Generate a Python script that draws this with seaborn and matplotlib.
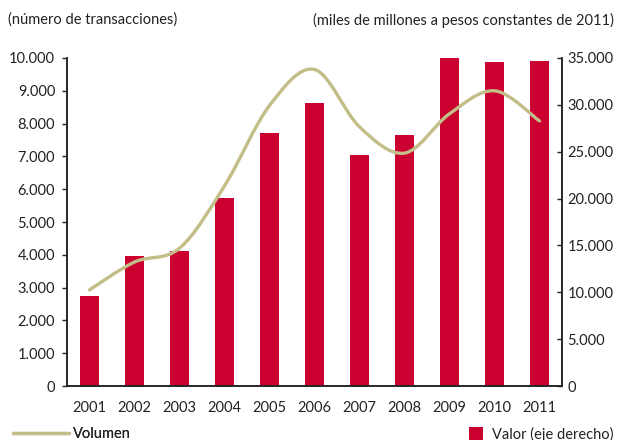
import matplotlib
matplotlib.use("Agg")
import matplotlib.pyplot as plt
import seaborn as sns
import numpy as np
import pandas as pd
from matplotlib.path import Path
from matplotlib.patches import PathPatch, Patch
from matplotlib.lines import Line2D
from matplotlib.ticker import FuncFormatter, FixedLocator

years = ["2001", "2002", "2003", "2004", "2005", "2006", "2007", "2008", "2009", "2010", "2011"]
valor = [9600, 13900, 14400, 20100, 27000, 30200, 24650, 26800, 34950, 34600, 34700]
volumen = [2930, 3780, 4200, 6100, 8550, 9650, 7900, 7100, 8300, 9000, 8080]

left_title = "(número de transacciones)"
right_title = "(miles de millones a pesos constantes de 2011)"
line_label = "Volumen"
bar_label = "Valor (eje derecho)"

BAR_COLOR = "#cc0030"
LINE_COLOR = "#c3bd88"
FONT = "Lato"

sns.set_theme(style="white")
plt.rcParams["font.family"] = [FONT, "DejaVu Sans"]
plt.rcParams["font.size"] = 10.5

df = pd.DataFrame({"year": years, "valor": valor, "volumen": volumen})

fig = plt.figure(figsize=(6.2, 4.4), dpi=100)
ax = fig.add_axes([67/620, 1-386/440, (562-67)/620, (386-58)/440])
ax2 = ax.twinx()

sns.barplot(data=df, x="year", y="valor", ax=ax2, color=BAR_COLOR, width=0.42,
            saturation=1, edgecolor="none")
ax2.set_ylim(0, 35000)
ax.set_ylim(0, 10000)
ax.set_xlim(-0.5, 10.5)

# smooth line (Excel-style bezier through the data points)
xs = np.arange(len(volumen), dtype=float)
ys = np.array(volumen, dtype=float)
pts = np.column_stack([xs, ys])
verts = [tuple(pts[0])]
codes = [Path.MOVETO]
n = len(pts)
for i in range(n - 1):
    p0 = pts[i - 1] if i > 0 else pts[i]
    p1 = pts[i]
    p2 = pts[i + 1]
    p3 = pts[i + 2] if i + 2 < n else pts[i + 1]
    c1 = p1 + (p2 - p0) / 6.0
    c2 = p2 - (p3 - p1) / 6.0
    verts += [tuple(c1), tuple(c2), tuple(p2)]
    codes += [Path.CURVE4] * 3
path = Path(verts, codes)
ax.add_patch(PathPatch(path, facecolor="none", edgecolor=LINE_COLOR, lw=2.4,
                       capstyle="round", zorder=3))

ax.set_zorder(ax2.get_zorder() + 1)
ax.patch.set_visible(False)

fmt = FuncFormatter(lambda v, p: f"{int(v):,}".replace(",", "."))
ax.yaxis.set_major_locator(FixedLocator(np.arange(0, 10001, 1000)))
ax2.yaxis.set_major_locator(FixedLocator(np.arange(0, 35001, 5000)))
ax.yaxis.set_major_formatter(fmt)
ax2.yaxis.set_major_formatter(fmt)

ax2.set_xticks(range(len(years)))
ax2.set_xticklabels(years)
ax.set_xticks(range(len(years)))
ax.set_xticklabels(years)
ax.set_xticks(np.arange(0.5, len(years) - 1, 1.0), minor=True)
ax.tick_params(axis="x", which="major", length=0, pad=11, labelsize=10.5, colors="#222222")
ax.tick_params(axis="x", which="minor", length=4, width=1, direction="in", color="#222222")
ax2.tick_params(axis="x", which="both", length=0, labelbottom=False)
ax.tick_params(axis="y", length=3.5, width=1, direction="out", pad=5, labelsize=10.5,
               colors="#222222", left=True)
ax2.tick_params(axis="y", length=3.5, width=1, direction="in", pad=4, labelsize=10.5,
                colors="#222222", right=True)

for a in (ax, ax2):
    a.set_xlabel("")
    a.set_ylabel("")
    a.grid(False)
    for s in ("top",):
        a.spines[s].set_visible(False)
    for s in ("left", "right", "bottom"):
        a.spines[s].set_color("#222222")
        a.spines[s].set_linewidth(1.1)

fig.text(8/620, 1-20/440, left_title, ha="left", va="center", fontsize=10.5, color="#222222")
fig.text(614/620, 1-20/440, right_title, ha="right", va="center", fontsize=10.5, color="#222222")

h1 = Line2D([], [], color=LINE_COLOR, lw=2.4)
h2 = Patch(facecolor=BAR_COLOR, edgecolor="none")
leg1 = fig.legend(handles=[h1], labels=[line_label], loc="center left",
                  bbox_to_anchor=(6/620, 1-434/440), frameon=False, borderpad=0,
                  handlelength=3.8, handletextpad=0.3, fontsize=10.5, labelcolor="#222222")
leg2 = fig.legend(handles=[h2], labels=[bar_label], loc="center left",
                  bbox_to_anchor=(462/620, 1-434/440), frameon=False, borderpad=0,
                  handlelength=0.95, handleheight=0.95, handletextpad=0.6, fontsize=10.5,
                  labelcolor="#222222")
fig.add_artist(leg1)

fig.savefig("out.png", dpi=100)
